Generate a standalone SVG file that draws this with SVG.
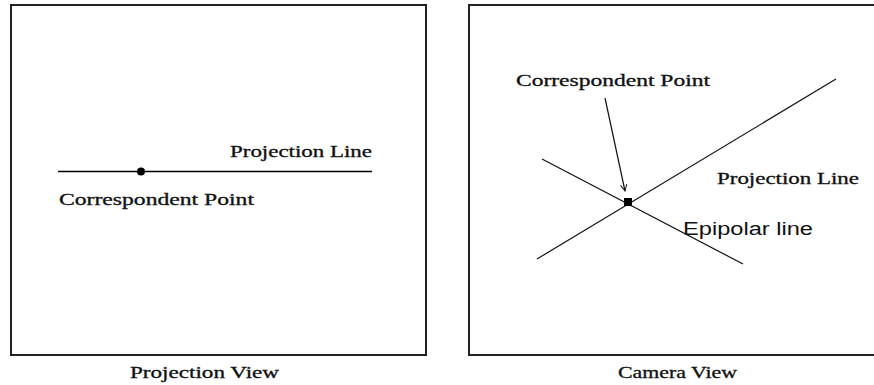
<svg xmlns="http://www.w3.org/2000/svg" width="874" height="385" viewBox="0 0 874 385">
<defs>
<style>
.frame{fill:none;stroke:#222;stroke-width:2}
.ln{stroke:#000;stroke-width:1.5;fill:none}
.thin{stroke:#111;stroke-width:1.2;fill:none}
.lbl{font-family:"Liberation Serif",serif;font-size:16px;fill:#111;stroke:#111;stroke-width:0.3}
.sans{font-family:"Liberation Sans",sans-serif;font-size:18px;fill:#111}
</style>
<marker id="open" viewBox="0 0 10 10" refX="9" refY="5" markerWidth="8" markerHeight="8" orient="auto" markerUnits="userSpaceOnUse">
<path d="M1,1 L9,5 L1,9" fill="none" stroke="#111" stroke-width="1.2"/>
</marker>
</defs>
<rect fill="#fff" x="0" y="0" width="874" height="385"/>
<g id="projection-view">
<rect class="frame" x="11" y="5" width="415" height="350"/>
<text class="lbl" x="130" y="378" textLength="149" lengthAdjust="spacingAndGlyphs">Projection View</text>
</g>
<g id="camera-view">
<rect class="frame" x="469" y="5" width="410" height="350"/>
<text class="lbl" x="618" y="378" textLength="119" lengthAdjust="spacingAndGlyphs">Camera View</text>
</g>
<g id="connectors">
<line class="ln" x1="58" y1="171.5" x2="372" y2="171.5"/>
<line class="thin" x1="836" y1="79" x2="537" y2="259"/>
<line class="thin" x1="542" y1="159" x2="743" y2="264"/>
<line class="thin" x1="605" y1="98" x2="625" y2="191" marker-end="url(#open)"/>
</g>
<g id="left-point">
<circle cx="141" cy="171.5" r="4" fill="#000"/>
<text class="lbl" x="230" y="157" textLength="142" lengthAdjust="spacingAndGlyphs">Projection Line</text>
<text class="lbl" x="59" y="205" textLength="195" lengthAdjust="spacingAndGlyphs">Correspondent Point</text>
</g>
<g id="right-point">
<rect x="624" y="198" width="8" height="8" fill="#000"/>
<text class="lbl" x="516" y="86" textLength="194" lengthAdjust="spacingAndGlyphs">Correspondent Point</text>
<text class="lbl" x="717" y="184" textLength="142" lengthAdjust="spacingAndGlyphs">Projection Line</text>
<text class="sans" x="683" y="235" textLength="130" lengthAdjust="spacingAndGlyphs">Epipolar line</text>
</g>
</svg>
